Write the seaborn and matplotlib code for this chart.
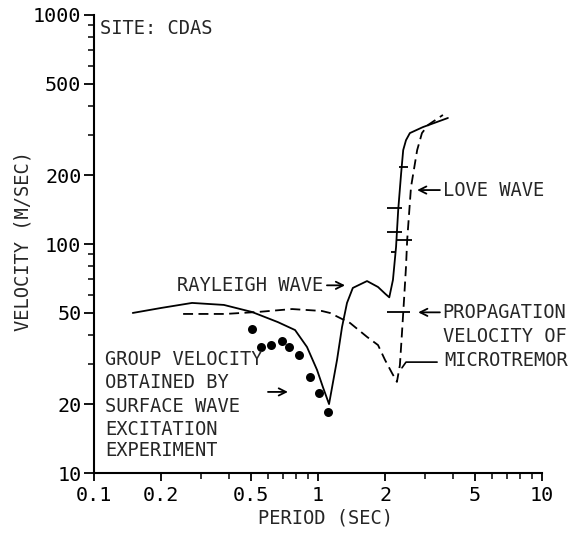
import matplotlib
matplotlib.use("Agg")
import numpy as np
import pandas as pd
import matplotlib.pyplot as plt
import seaborn as sns

# ---------------- data ----------------
rayleigh_period = [0.149, 0.20, 0.274, 0.38, 0.507, 0.662, 0.79, 0.893, 0.99, 1.052, 1.12,
                   1.216, 1.28, 1.347, 1.43, 1.655, 1.853, 2.0, 2.08, 2.16, 2.23, 2.28,
                   2.35, 2.40, 2.47, 2.57, 2.94, 3.80]
rayleigh_velocity = [50.0, 52.6, 55.3, 54.2, 50.5, 45.6, 42.1, 35.5, 28.2, 23.7, 20.0,
                     31.2, 43.4, 55.3, 64.3, 68.9, 64.9, 60.5, 58.5, 69.7, 97, 141,
                     204, 257, 284, 305, 324, 355]

love_period = [0.250, 0.385, 0.54, 0.766, 1.04, 1.13, 1.39, 1.655, 1.853, 1.99, 2.14,
               2.25, 2.32, 2.37, 2.42, 2.47, 2.50, 2.60, 2.77, 2.91, 3.10, 3.61]
love_velocity = [49.5, 49.5, 50.5, 52.0, 51.0, 50.0, 45.2, 39.3, 36.2, 31.2, 27.3,
                 25.0, 29.6, 40.9, 56.9, 79.4, 104, 177, 257, 305, 331, 366]

group_period = [0.507, 0.557, 0.617, 0.69, 0.742, 0.823, 0.921, 1.01, 1.11]
group_velocity = [42.5, 35.5, 36.2, 37.7, 35.5, 32.7, 26.3, 22.3, 18.5]

micro_velocity = [217, 143.6, 112.7, 104, 92.3, 50.5]
micro_period_min = [2.30, 2.03, 2.03, 2.25, 2.12, 2.03]
micro_period_max = [2.52, 2.37, 2.37, 2.63, 2.21, 2.57]

x_ticks = [0.1, 0.2, 0.5, 1, 2, 5, 10]
x_tick_labels = ["0.1", "0.2", "0.5", "1", "2", "5", "10"]
y_ticks = [10, 20, 50, 100, 200, 500, 1000]
y_tick_labels = ["10", "20", "50", "100", "200", "500", "1000"]

# ---------------- style ----------------
sns.set_theme(style="ticks")
plt.rcParams['font.family'] = ['DejaVu Sans Mono', 'DejaVu Sans']
FS = 13.5

fig = plt.figure(figsize=(5.73, 5.39), dpi=100)
fig.patch.set_facecolor("white")
ax = fig.add_axes([0.164, 0.1224, 0.782, 0.8498])
ax.set_facecolor("white")

ray_df = pd.DataFrame({"period": rayleigh_period, "velocity": rayleigh_velocity})
love_df = pd.DataFrame({"period": love_period, "velocity": love_velocity})
grp_df = pd.DataFrame({"period": group_period, "velocity": group_velocity})

sns.lineplot(data=ray_df, x="period", y="velocity", sort=False, estimator=None,
             color="black", lw=1.3, ax=ax)
sns.lineplot(data=love_df, x="period", y="velocity", sort=False, estimator=None,
             color="black", lw=1.3, linestyle=(0, (5.5, 3.0)), ax=ax)
sns.scatterplot(data=grp_df, x="period", y="velocity", color="black", s=42,
                edgecolor="black", linewidth=0, ax=ax, zorder=3)
ax.hlines(micro_velocity, micro_period_min, micro_period_max, color="black", lw=1.3)

ax.set_xscale("log")
ax.set_yscale("log")
ax.set_xlim(0.1, 10)
ax.set_ylim(10, 1000)
ax.set_xticks(x_ticks)
ax.set_xticklabels(x_tick_labels)
ax.set_yticks(y_ticks)
ax.set_yticklabels(y_tick_labels)
ax.set_xlabel("")
ax.set_ylabel("")

for s in ["top", "right"]:
    ax.spines[s].set_visible(False)
for s in ["left", "bottom"]:
    ax.spines[s].set_linewidth(1.5)
    ax.spines[s].set_color("black")

ax.tick_params(axis="both", which="major", direction="out", length=7, width=1.3,
               labelsize=14.5, pad=2, colors="black")
ax.tick_params(axis="both", which="minor", direction="out", length=4.5, width=1.1,
               colors="black")
ax.tick_params(axis="x", which="major", length=6, pad=3)
ax.grid(False)

# ---------------- text ----------------
fig.text(23 / 573, 1 - 241 / 539, "VELOCITY (M/SEC)", rotation=90, ha="center",
         va="center", fontsize=FS)
fig.text(325 / 573, 1 - 518 / 539, "PERIOD (SEC)", ha="center", va="center", fontsize=FS)

ax.text(0.106, 877, "SITE: CDAS", ha="left", va="center", fontsize=FS)

ax.text(0.235, 65.6, "RAYLEIGH WAVE", ha="left", va="center", fontsize=FS)
arrow = dict(arrowstyle="->", lw=1.3, color="black", mutation_scale=13,
             shrinkA=0, shrinkB=0)
ax.annotate("", xy=(1.32, 66), xytext=(1.096, 66), arrowprops=arrow)

ax.text(3.60, 172, "LOVE WAVE", ha="left", va="center", fontsize=FS)
ax.annotate("", xy=(2.77, 172), xytext=(3.50, 172), arrowprops=arrow)

ax.text(3.60, 50.0, "PROPAGATION", ha="left", va="center", fontsize=FS)
ax.text(3.60, 39.3, "VELOCITY OF", ha="left", va="center", fontsize=FS)
ax.text(3.65, 31.0, "MICROTREMOR", ha="left", va="center", fontsize=FS)
ax.annotate("", xy=(2.80, 50.3), xytext=(3.50, 50.3), arrowprops=arrow)
ax.plot([2.37, 2.47, 3.40], [28.8, 30.5, 30.5], color="black", lw=1.2)

group_lines = ["GROUP VELOCITY", "OBTAINED BY", "SURFACE WAVE", "EXCITATION", "EXPERIMENT"]
group_line_v = [31.2, 24.8, 19.6, 15.5, 12.5]
for txt, v in zip(group_lines, group_line_v):
    ax.text(0.112, v, txt, ha="left", va="center", fontsize=FS)
ax.annotate("", xy=(0.734, 22.6), xytext=(0.598, 22.6), arrowprops=arrow)

fig.savefig("out.png", dpi=100, facecolor="white")
